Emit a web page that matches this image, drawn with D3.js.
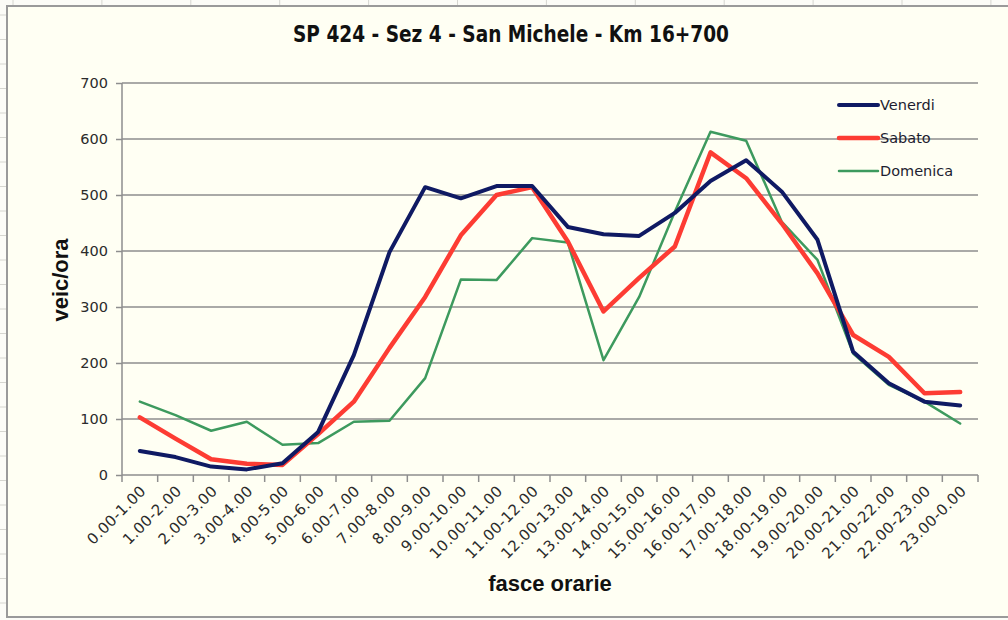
<!DOCTYPE html>
<html>
<head>
<meta charset="utf-8">
<script src="https://cdn.jsdelivr.net/npm/d3@7"></script>
<style>
  body { margin: 0; background: #fcfcf7; }
  svg { display: block; }
</style>
</head>
<body>
<div id="container"></div>
<script>
// fasce orarie (categories)
const fasce = ["0.00-1.00","1.00-2.00","2.00-3.00","3.00-4.00","4.00-5.00","5.00-6.00",
  "6.00-7.00","7.00-8.00","8.00-9.00","9.00-10.00","10.00-11.00","11.00-12.00",
  "12.00-13.00","13.00-14.00","14.00-15.00","15.00-16.00","16.00-17.00","17.00-18.00",
  "18.00-19.00","19.00-20.00","20.00-21.00","21.00-22.00","22.00-23.00","23.00-0.00"];

// veicoli/ora
const venerdi  = [43, 32, 15, 10, 21, 77, 214, 398, 514, 494, 516, 516, 443, 430, 427, 468, 525, 562, 506, 420, 220, 164, 131, 124];
const sabato   = [103, 65, 28, 20, 18, 73, 131, 227, 318, 428, 500, 514, 417, 292, 352, 408, 576, 530, 449, 360, 250, 211, 146, 148];
const domenica = [131, 107, 79, 95, 54, 57, 95, 97, 173, 349, 348, 423, 415, 205, 318, 470, 613, 597, 452, 384, 217, 161, 131, 92];

const yTicks = [0, 100, 200, 300, 400, 500, 600, 700];

const series = [
  { name: "Venerdi",  values: venerdi,  color: "#0f1a63", width: 4 },
  { name: "Sabato",   values: sabato,   color: "#fd3c33", width: 4.5 },
  { name: "Domenica", values: domenica, color: "#3d9a5e", width: 2.5 }
];

const width = 1008, height = 620;
const svg = d3.select("#container").append("svg")
  .attr("width", width).attr("height", height);

// spreadsheet background bits
const sheet = svg.append("g").attr("stroke", "#d6d6d0").attr("stroke-width", 1);
d3.range(13, width, 88.9).forEach(x => {
  sheet.append("line").attr("x1", x).attr("x2", x).attr("y1", 0).attr("y2", 6);
});
d3.range(15, height, 24.5).forEach(y => {
  sheet.append("line").attr("x1", 0).attr("x2", 6).attr("y1", y).attr("y2", y);
});

// chart area
svg.append("rect")
  .attr("x", 7).attr("y", 6).attr("width", 1010).attr("height", 611)
  .attr("fill", "#fffff3").attr("stroke", "#9a9a9a").attr("stroke-width", 2);

const margin = { left: 122, right: 1008 - 978, top: 83, bottom: 620 - 475 };

const x = d3.scaleBand().domain(fasce).range([margin.left, 978]);
const y = d3.scaleLinear().domain([0, 700]).range([475, 83]);

// gridlines
svg.append("g")
  .selectAll("line").data(yTicks.filter(d => d > 0)).join("line")
  .attr("x1", margin.left).attr("x2", 978)
  .attr("y1", d => y(d)).attr("y2", d => y(d))
  .attr("stroke", "#8e8e8e").attr("stroke-width", 1.5);

// y axis
const yAxis = svg.append("g")
  .attr("transform", `translate(${margin.left},0)`)
  .call(d3.axisLeft(y).tickValues(yTicks).tickSize(6).tickPadding(8));
yAxis.selectAll("path, line").attr("stroke", "#8e8e8e").attr("stroke-width", 1.5);
yAxis.select(".domain").attr("d", `M0,${y(700)}V${y(0)}`);
yAxis.selectAll("text")
  .attr("font-family", "DejaVu Sans, sans-serif")
  .attr("font-size", 14.5)
  .attr("fill", "#2b2b2b");

// x axis with ticks at category boundaries
const bounds = d3.range(fasce.length + 1).map(i => margin.left + i * x.step());
const xg = svg.append("g");
xg.append("line")
  .attr("x1", margin.left).attr("x2", 978)
  .attr("y1", y(0)).attr("y2", y(0))
  .attr("stroke", "#8e8e8e").attr("stroke-width", 1.5);
xg.selectAll("line.tick").data(bounds).join("line")
  .attr("class", "tick")
  .attr("x1", d => d).attr("x2", d => d)
  .attr("y1", y(0)).attr("y2", y(0) + 7)
  .attr("stroke", "#8e8e8e").attr("stroke-width", 1.5);
xg.selectAll("text").data(fasce).join("text")
  .attr("transform", d => `translate(${x(d) + x.bandwidth() / 2 + 7},${y(0) + 17}) rotate(-45)`)
  .attr("text-anchor", "end")
  .attr("font-family", "DejaVu Sans, sans-serif")
  .attr("font-size", 15)
  .attr("letter-spacing", 0.4)
  .attr("fill", "#2b2b2b")
  .text(d => d);

// lines
const line = d3.line()
  .x((d, i) => x(fasce[i]) + x.bandwidth() / 2)
  .y(d => y(d));

svg.append("g")
  .selectAll("path").data(series.slice().reverse()).join("path")
  .attr("d", d => line(d.values))
  .attr("fill", "none")
  .attr("stroke", d => d.color)
  .attr("stroke-width", d => d.width)
  .attr("stroke-linejoin", "round")
  .attr("stroke-linecap", "round");

// legend
const legend = svg.append("g");
const legendY = [105, 138, 171];
series.forEach((s, i) => {
  legend.append("line")
    .attr("x1", 839).attr("x2", 878)
    .attr("y1", legendY[i]).attr("y2", legendY[i])
    .attr("stroke", s.color).attr("stroke-width", s.width)
    .attr("stroke-linecap", "round");
  legend.append("text")
    .attr("x", 880).attr("y", legendY[i])
    .attr("dy", "0.36em")
    .attr("font-family", "DejaVu Sans, sans-serif")
    .attr("font-size", 14.5)
    .attr("fill", "#1d1d30")
    .text(s.name);
});

// title
svg.append("text")
  .attr("x", 511).attr("y", 42)
  .attr("text-anchor", "middle")
  .attr("font-family", "DejaVu Sans Condensed, Liberation Sans, sans-serif")
  .attr("font-weight", "bold")
  .attr("font-size", 23)
  .attr("textLength", 436)
  .attr("lengthAdjust", "spacingAndGlyphs")
  .attr("fill", "#111")
  .text("SP 424 - Sez 4 - San Michele - Km 16+700");

// axis titles
svg.append("text")
  .attr("transform", "translate(68,280) rotate(-90)")
  .attr("text-anchor", "middle")
  .attr("font-family", "Liberation Sans, Arial, sans-serif")
  .attr("font-weight", "bold")
  .attr("font-size", 22)
  .attr("fill", "#111")
  .text("veic/ora");

svg.append("text")
  .attr("x", 550).attr("y", 591)
  .attr("text-anchor", "middle")
  .attr("font-family", "Liberation Sans, Arial, sans-serif")
  .attr("font-weight", "bold")
  .attr("font-size", 22)
  .attr("fill", "#111")
  .text("fasce orarie");
</script>
</body>
</html>
